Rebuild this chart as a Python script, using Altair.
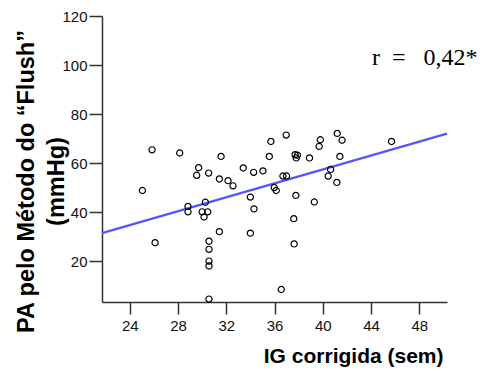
import altair as alt
import pandas as pd

# Data
ig_corrigida = [25.05, 25.85, 26.1, 28.14, 28.83, 28.83, 29.55, 29.71, 30.0, 30.27,
                30.46, 30.16, 30.54, 30.57, 30.57, 30.57, 30.57, 30.57, 31.43, 31.57,
                31.43, 32.15, 32.56, 33.41, 34.0, 34.3, 34.0, 34.27, 35.04, 35.57,
                35.7, 35.98, 36.14, 36.56, 36.7, 37.0, 36.97, 37.7, 37.9, 37.8,
                37.77, 37.6, 37.63, 38.9, 39.3, 39.7, 39.8, 40.45, 40.65, 41.2,
                41.6, 41.42, 41.17, 45.7]
pa_flush = [48.8, 65.4, 27.5, 64.1, 42.3, 40.1, 55.0, 58.1, 40.1, 44.0,
            40.1, 38.0, 55.9, 28.1, 24.8, 20.0, 18.0, 4.5, 53.5, 62.7,
            32.0, 52.8, 50.7, 58.0, 46.1, 41.3, 31.4, 56.2, 56.8, 62.7,
            68.8, 50.0, 48.8, 8.4, 54.7, 54.7, 71.4, 63.4, 63.2, 62.1,
            46.8, 37.3, 27.0, 62.1, 44.1, 66.8, 69.5, 54.7, 57.4, 72.1,
            69.3, 62.7, 52.1, 68.8]

fit_x = [21.7, 50.3]
fit_y = [31.4, 72.0]

x_ticks = [24, 28, 32, 36, 40, 44, 48]
y_ticks = [20, 40, 60, 80, 100, 120]
annotation = "r\u00a0\u00a0=\u00a0\u00a0\u00a00,42*"

pts = pd.DataFrame({"ig": ig_corrigida, "pa": pa_flush})
fit = pd.DataFrame({"ig": fit_x, "pa": fit_y})

xscale = alt.Scale(domain=[21.7, 50.3], nice=False, zero=False)
yscale = alt.Scale(domain=[3.3, 120], nice=False, zero=False)

axis_common = dict(
    grid=False,
    domainColor="#333333",
    domainWidth=1.5,
    tickColor="#333333",
    tickWidth=1.5,
    labelFont="Liberation Sans",
    labelFontSize=15,
    labelColor="#111111",
    titleFont="Liberation Sans",
    titleFontWeight="bold",
    titleColor="#000000",
)

x_enc = alt.X("ig:Q", scale=xscale,
              axis=alt.Axis(values=x_ticks, title="IG corrigida (sem)",
                            tickSize=12, labelPadding=4, titleFontSize=21,
                            titleAnchor="end", titleAlign="right", titleBaseline="alphabetic",
                            titleX=341, titleY=60, **axis_common))
y_enc = alt.Y("pa:Q", scale=yscale,
              axis=alt.Axis(values=y_ticks, title=["PA pelo Método do “Flush”", "(mmHg)"],
                            tickSize=13, labelPadding=2, titleFontSize=23.5,
                            titleLineHeight=30, titleAngle=270, titleAlign="center",
                            titleBaseline="alphabetic", titleX=-69, titleY=165,
                            **axis_common))

points = alt.Chart(pts).mark_point(
    shape="circle", filled=False, stroke="black", strokeWidth=1.2, size=38, opacity=1
).encode(x=x_enc, y=y_enc)

line = alt.Chart(fit).mark_line(color="#5555ff", strokeWidth=2.2).encode(
    x=alt.X("ig:Q", scale=xscale), y=alt.Y("pa:Q", scale=yscale)
)

text = alt.Chart(pd.DataFrame({"t": [annotation]})).mark_text(
    font="Liberation Serif", fontSize=24, align="left", baseline="alphabetic", color="black"
).encode(x=alt.value(270), y=alt.value(49), text="t:N")

chart = alt.layer(line, points, text).properties(
    width=345, height=286,
    padding={"left": 102, "top": 16, "right": 37, "bottom": 69},
    autosize=alt.AutoSizeParams(type="none"),
).configure_view(stroke=None)

chart.save("out.html", embed_options={"renderer": "svg", "actions": False})
